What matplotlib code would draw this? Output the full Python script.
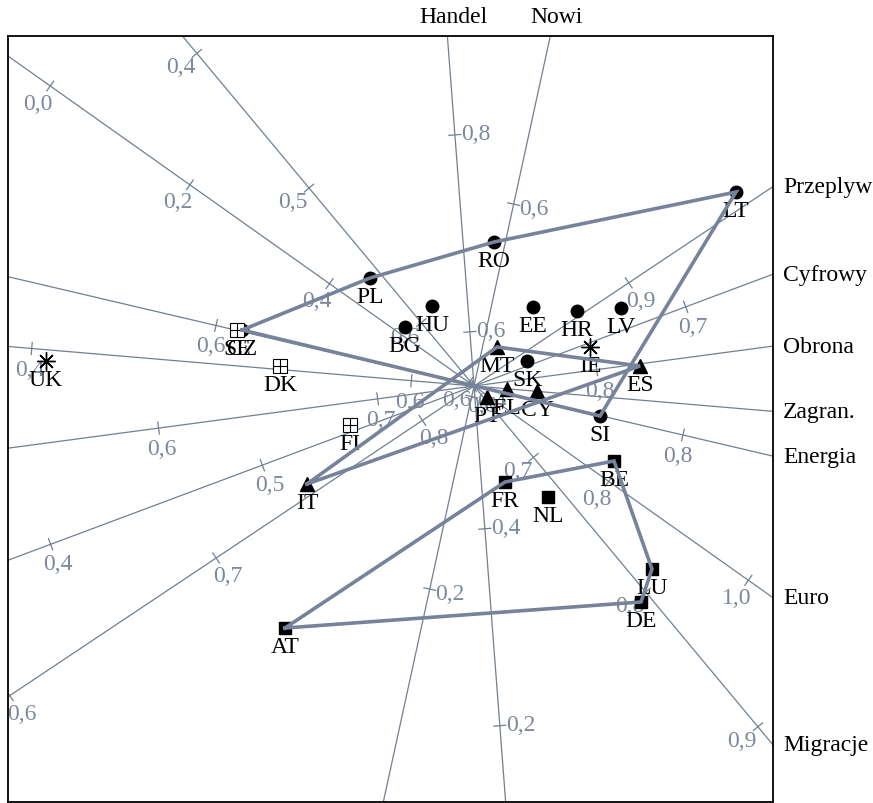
import numpy as np
import matplotlib
matplotlib.use("Agg")
import matplotlib.pyplot as plt

# --- country scores in the biplot plane -------------------------------------
east_names = ["LT", "RO", "PL", "HU", "BG", "EE", "HR", "LV", "SK", "SI", "CZ"]
east_x = [2.62, 0.20, -1.04, -0.42, -0.69, 0.59, 1.03, 1.47, 0.53, 1.26, -2.32]
east_y = [1.94, 1.44, 1.08, 0.80, 0.59, 0.79, 0.75, 0.78, 0.25, -0.30, 0.56]

south_names = ["MT", "ES", "IT", "PT", "EL", "CY"]
south_x = [0.23, 1.66, -1.67, 0.13, 0.33, 0.63]
south_y = [0.39, 0.20, -0.98, -0.11, -0.03, -0.05]

core_names = ["BE", "FR", "NL", "LU", "DE", "AT"]
core_x = [1.40, 0.31, 0.74, 1.78, 1.67, -1.89]
core_y = [-0.75, -0.96, -1.11, -1.83, -2.16, -2.42]

nord_names = ["SE", "DK", "FI"]
nord_x = [-2.37, -1.94, -1.24]
nord_y = [0.56, 0.20, -0.39]

isl_names = ["UK", "IE"]
isl_x = [-4.28, 1.16]
isl_y = [0.25, 0.39]

# --- calibrated variable axes -----------------------------------------------
var_names = ["Przeplyw", "Cyfrowy", "Obrona", "Zagran.", "Energia",
             "Euro", "Migracje", "Handel", "Nowi"]
var_angle = [33.7, 20.5, 7.6, -4.85, -13.2, -35.3, -50.2, 94.35, 77.7]
var_origin = [0.825, 0.600, 0.744, 0.633, 0.7105, 0.607, 0.647, 0.545, 0.411]
var_scale = [24.8, 22.6, 22.1, 19.05, 23.98, 8.554, 17.53, 9.875, 9.85]
var_ticks = [[0.6, 0.7, 0.8, 0.9], [0.4, 0.5, 0.6, 0.7], [0.6, 0.7, 0.8],
             [0.4, 0.6], [0.6, 0.8], [0.0, 0.2, 0.4, 0.6, 0.8, 1.0],
             [0.4, 0.5, 0.6, 0.7, 0.8, 0.9], [0.2, 0.4, 0.6, 0.8],
             [0.2, 0.4, 0.6]]

XL, YL = (-4.66, 2.99), (-4.16, 3.50)
AXC = "#708090"
HULLC = "#77839a"
SERIF = "Liberation Serif"
FS = 17


def hull(px, py):
    pts = sorted(zip(px, py))

    def cross(o, a, b):
        return (a[0] - o[0]) * (b[1] - o[1]) - (a[1] - o[1]) * (b[0] - o[0])

    lo, up = [], []
    for p in pts:
        while len(lo) >= 2 and cross(lo[-2], lo[-1], p) <= 0:
            lo.pop()
        lo.append(p)
    for p in reversed(pts):
        while len(up) >= 2 and cross(up[-2], up[-1], p) <= 0:
            up.pop()
        up.append(p)
    h = lo[:-1] + up[:-1]
    return h + [h[0]]


fig = plt.figure(figsize=(8.73, 8.04), dpi=100)
ax = fig.add_axes([8 / 873, 1 / 804, 765 / 873, 766 / 804])
ax.set_xlim(*XL)
ax.set_ylim(*YL)
ax.set_xticks([])
ax.set_yticks([])
for s in ax.spines.values():
    s.set_linewidth(1.3)
    s.set_color("black")

for name, ang, v0, sc, ticks in zip(var_names, var_angle, var_origin,
                                    var_scale, var_ticks):
    c, s = np.cos(np.radians(ang)), np.sin(np.radians(ang))
    ax.plot([-20 * c, 20 * c], [-20 * s, 20 * s], color=AXC, lw=0.9, zorder=1)
    px, py = s, -c  # side for tick labels
    for v in ticks:
        d = (v - v0) * sc
        tx, ty = d * c, d * s
        ax.plot([tx - 0.06 * px, tx + 0.06 * px], [ty - 0.06 * py, ty + 0.06 * py],
                color=AXC, lw=0.9, zorder=1)
        ax.text(tx + 0.21 * px, ty + 0.21 * py, f"{v:.1f}".replace(".", ","),
                color="#7d889b", fontsize=FS, family=SERIF,
                ha="center", va="center", zorder=1.5)
    # variable name where the axis leaves the frame on its increasing side
    ts = []
    ts.append((XL[1] / c, "r") if c > 0 else (XL[0] / c, "l"))
    ts.append((YL[1] / s, "t") if s > 0 else (YL[0] / s, "b"))
    t, side = min(ts)
    ex, ey = t * c, t * s
    if side == "r":
        ax.text(ex + 0.1, ey, name, fontsize=FS, family=SERIF,
                ha="left", va="center", clip_on=False)
    else:
        ax.text(ex + 0.06, ey + 0.09, name, fontsize=FS, family=SERIF,
                ha="center", va="bottom", clip_on=False)

# markers
ax.plot(east_x, east_y, "o", color="black", ms=9, ls="none", zorder=2)
ax.plot(south_x, south_y, "^", color="black", ms=10, ls="none", zorder=2)
ax.plot(core_x, core_y, "s", color="black", ms=9, ls="none", zorder=2)
ax.plot(nord_x, nord_y, "s", mfc="white", mec="black", mew=0.8, ms=10,
        ls="none", zorder=2)
ax.plot(nord_x, nord_y, "+", color="black", mew=0.8, ms=10, ls="none", zorder=2)
ax.plot(isl_x, isl_y, marker=(8, 2, 0), color="black", mew=1, ms=13,
        ls="none", zorder=2)

for names, xs, ys in [(east_names, east_x, east_y), (south_names, south_x, south_y),
                      (core_names, core_x, core_y), (nord_names, nord_x, nord_y),
                      (isl_names, isl_x, isl_y)]:
    for n, x, y in zip(names, xs, ys):
        ax.annotate(n, (x, y), xytext=(0, -17), textcoords="offset points",
                    fontsize=FS, family=SERIF, ha="center", va="baseline",
                    zorder=2.5)

# outlines of the three main groups
for xs, ys in [(east_x, east_y), (south_x, south_y), (core_x, core_y)]:
    h = hull(xs, ys)
    ax.plot([p[0] for p in h], [p[1] for p in h], color=HULLC, lw=2.6,
            solid_joinstyle="miter", zorder=3)

fig.savefig("out.png", dpi=100)
